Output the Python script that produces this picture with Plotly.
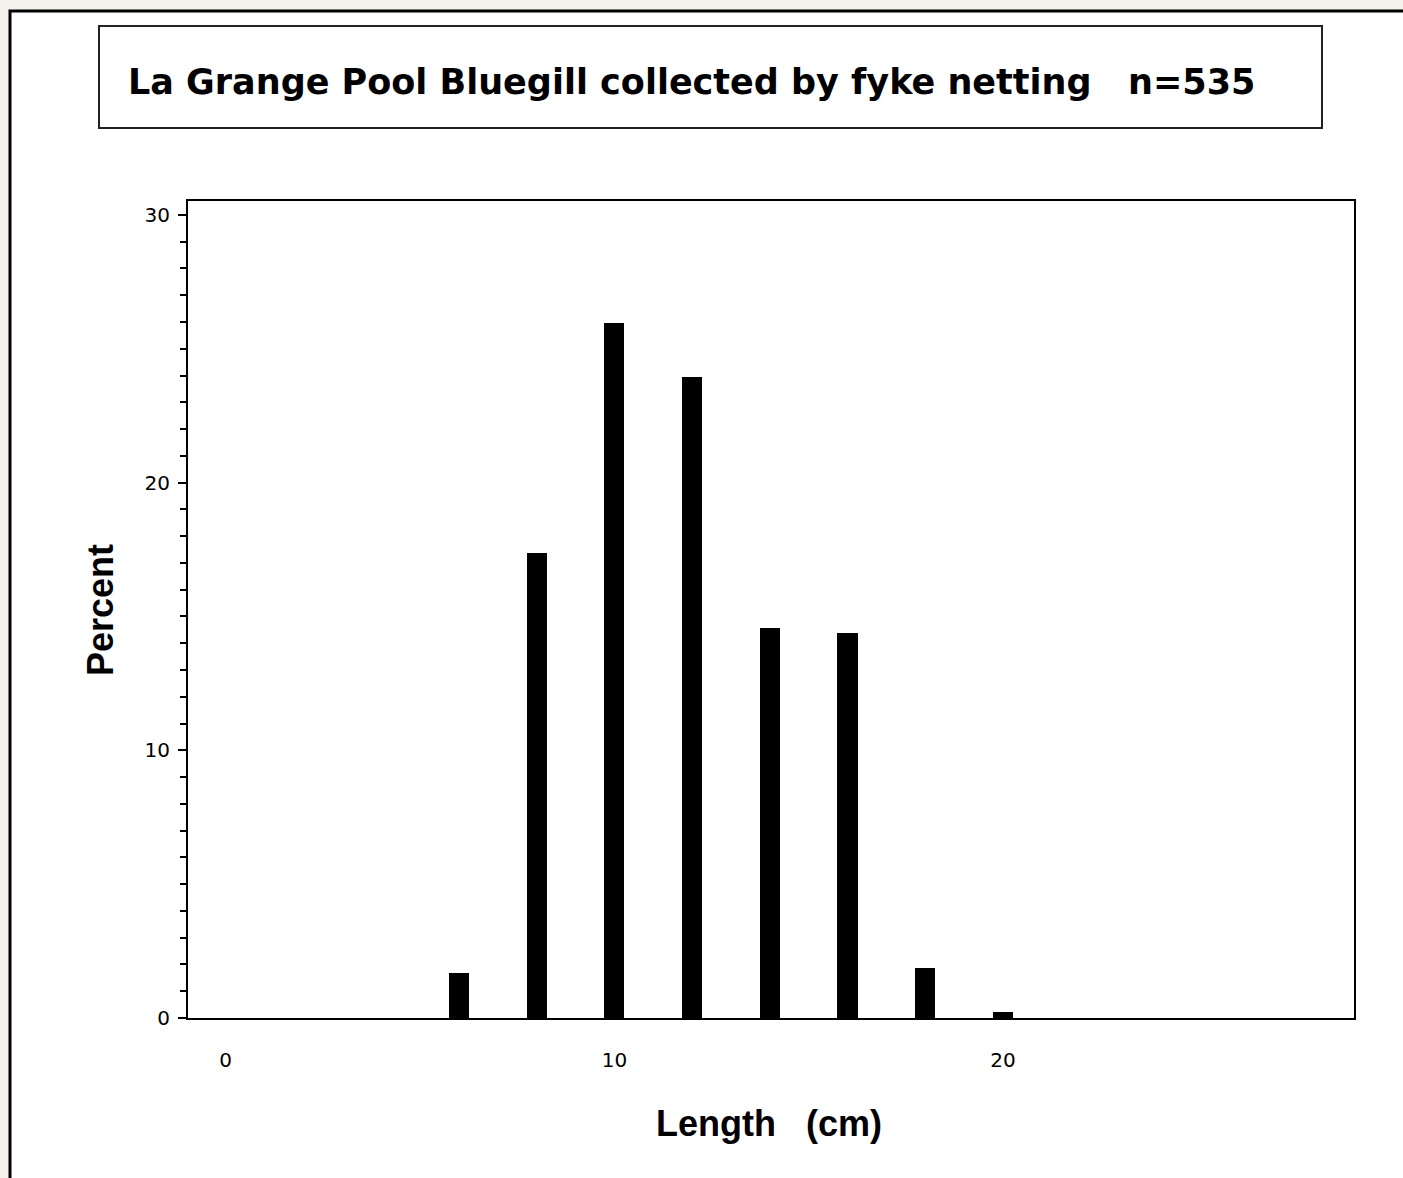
import plotly.graph_objects as go

# Length classes (cm) and percent of fish in each class
length_cm = [6, 8, 10, 12, 14, 16, 18, 20]
percent = [1.68, 17.38, 25.98, 23.93, 14.58, 14.39, 1.87, 0.22]

x_tick_vals = [0, 10, 20]
y_tick_vals = [0, 10, 20, 30]

TITLE = "La Grange Pool Bluegill collected by fyke netting\u00a0\u00a0\u00a0n=535"
X_LABEL = "Length\u00a0\u00a0\u00a0(cm)"
Y_LABEL = "Percent"

# figure geometry (pixels)
W, H = 1403, 1178
L, R, T, B = 188, 49, 201, 160
PW, PH = W - L - R, H - T - B


def px_x(px):
    """Convert a page x pixel to paper coordinates."""
    return (px - L) / PW


def px_y(py):
    """Convert a page y pixel to paper coordinates."""
    return (H - B - py) / PH


def build_figure():
    fig = go.Figure()
    fig.add_trace(go.Bar(
        x=length_cm,
        y=percent,
        width=0.52,
        marker=dict(color="black", line=dict(width=0)),
        hoverinfo="x+y",
    ))

    # white panel with black frame over the textured page
    fig.add_shape(type="rect", xref="paper", yref="paper", layer="below",
                  x0=px_x(10), x1=px_x(1420), y0=px_y(1200), y1=px_y(11),
                  fillcolor="white", line=dict(color="black", width=3))
    # title box
    fig.add_shape(type="rect", xref="paper", yref="paper",
                  x0=px_x(99), x1=px_x(1322), y0=px_y(128), y1=px_y(26),
                  fillcolor="rgba(0,0,0,0)", line=dict(color="#222", width=2))

    fig.add_annotation(text=TITLE, xref="paper", yref="paper",
                       x=px_x(126), y=px_y(82), xanchor="left", yanchor="middle",
                       showarrow=False,
                       font=dict(family="DejaVu Sans", size=35, color="black", weight="bold"))
    fig.add_annotation(text=Y_LABEL, xref="paper", yref="paper",
                       x=px_x(100), y=px_y(610), xanchor="center", yanchor="middle",
                       textangle=-90, showarrow=False,
                       font=dict(family="Liberation Sans", size=36, color="black", weight="bold"))
    fig.add_annotation(text=X_LABEL, xref="paper", yref="paper",
                       x=px_x(769), y=px_y(1123), xanchor="center", yanchor="middle",
                       showarrow=False,
                       font=dict(family="Liberation Sans", size=36, color="black", weight="bold"))

    fig.update_layout(
        width=W, height=H,
        margin=dict(l=L, r=R, t=T, b=B, pad=0),
        paper_bgcolor="#f4f1ea",
        plot_bgcolor="white",
        showlegend=False,
        bargap=0,
        font=dict(family="DejaVu Sans", size=20, color="black"),
    )
    fig.update_xaxes(
        range=[-0.97, 29.03],
        tickvals=x_tick_vals,
        ticks="",
        ticklabelstandoff=23,
        showgrid=False, zeroline=False,
        showline=True, linecolor="black", linewidth=2, mirror=True,
    )
    fig.update_yaxes(
        range=[0, 30.52],
        tickvals=y_tick_vals,
        ticks="outside", ticklen=8, tickwidth=2, tickcolor="black",
        minor=dict(dtick=1, ticks="outside", ticklen=6, tickwidth=2, tickcolor="black"),
        ticklabelstandoff=4,
        showgrid=False, zeroline=False,
        showline=True, linecolor="black", linewidth=2, mirror=True,
    )
    return fig


def main():
    fig = build_figure()
    # drop the browser's default body margin so the figure sits at the page corner
    fig.write_html("out.html", config={"displayModeBar": False},
                   post_script="document.body.style.margin='0';")


if __name__ == "__main__":
    main()
